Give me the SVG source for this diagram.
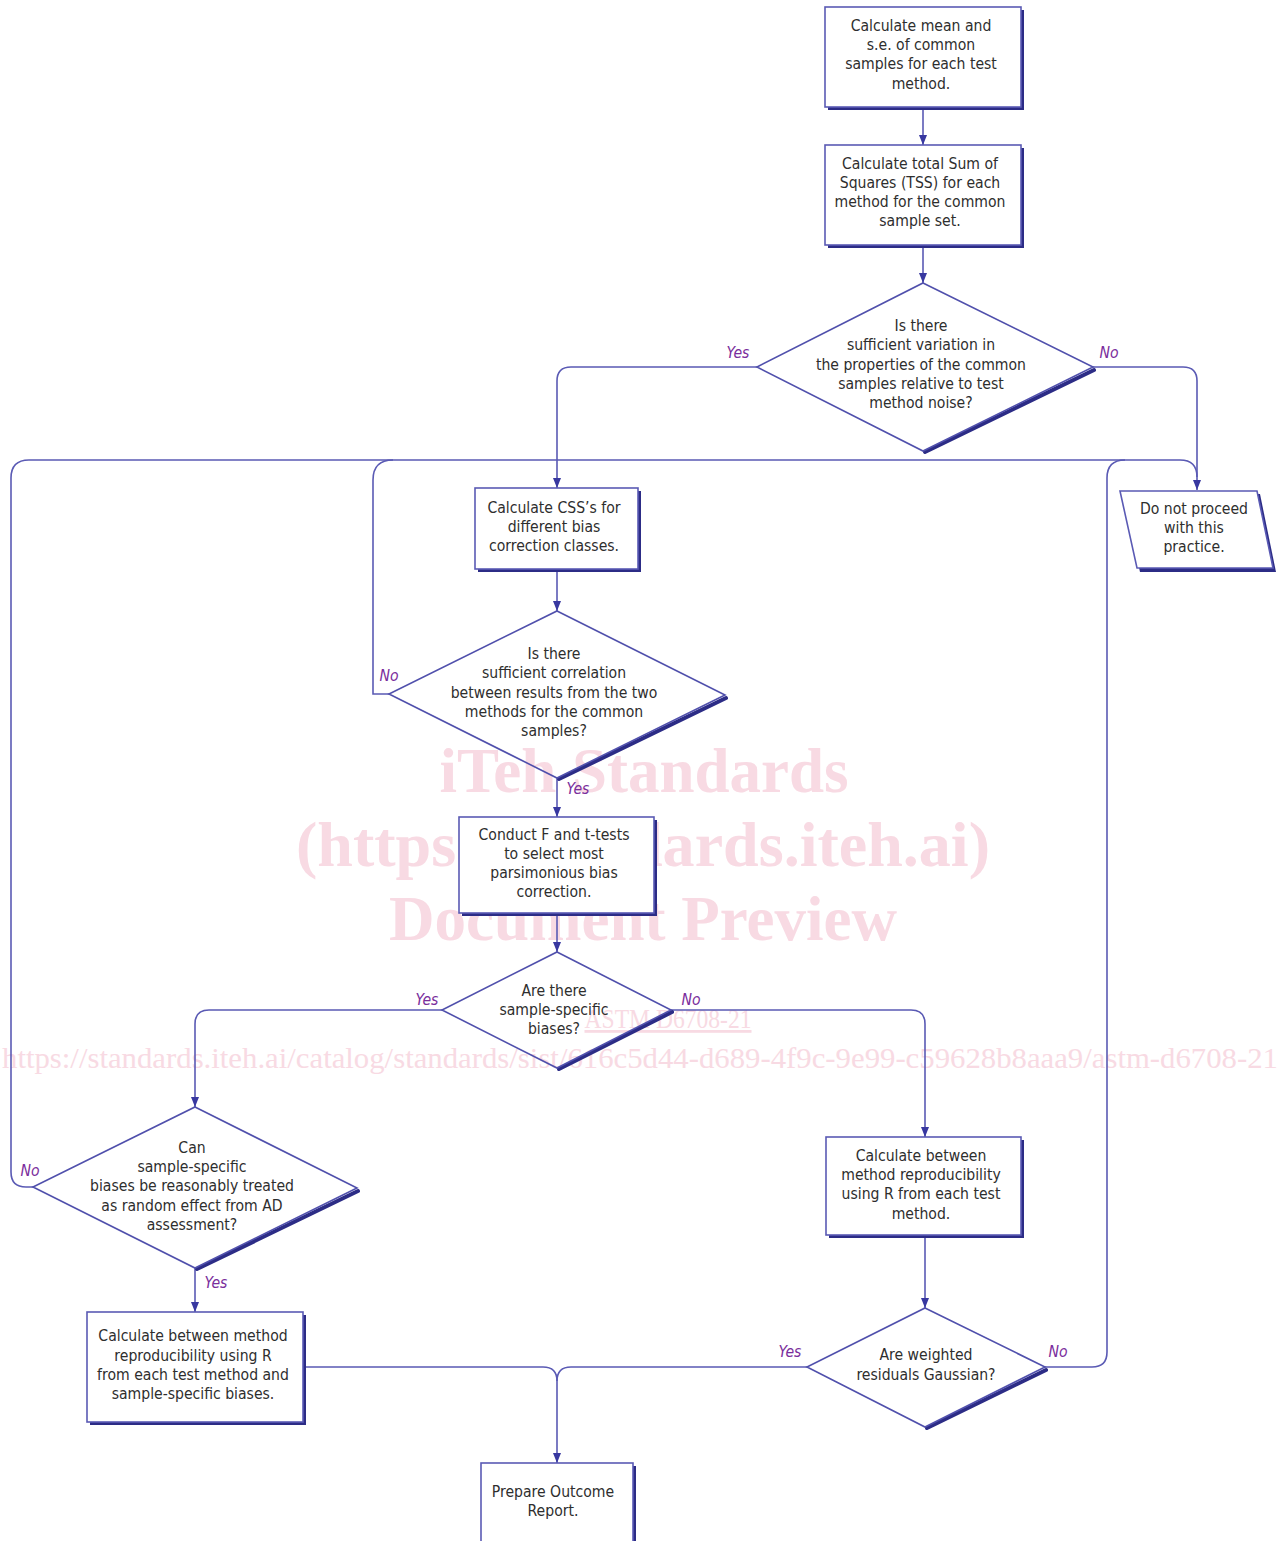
<svg xmlns="http://www.w3.org/2000/svg" width="1278" height="1541" viewBox="0 0 1278 1541">
<style>
.wm{font-family:"Liberation Serif","DejaVu Serif",serif;fill:#f8dae3;text-anchor:middle}
.wmb{font-weight:bold;font-size:63px}
.box{fill:#ffffff;stroke:#5a5ab4;stroke-width:1.6}
.dia{fill:none;stroke:#5050ac;stroke-width:1.6}
.sh{fill:#2c2c86;stroke:none}
.dsh{fill:none;stroke:#2c2c86;stroke-width:4;stroke-linecap:round}
.t{font-family:"DejaVu Sans Condensed","DejaVu Sans",sans-serif;font-stretch:condensed;font-size:15.6px;fill:#2e2e2e;text-anchor:middle}
.lb{font-family:"DejaVu Sans Condensed","DejaVu Sans",sans-serif;font-stretch:condensed;font-size:15.6px;font-style:italic;fill:#7a2d9c;text-anchor:middle}
.c{fill:none;stroke:#5a5ab4;stroke-width:1.6}
.ca{fill:none;stroke:#5a5ab4;stroke-width:1.6;marker-end:url(#ah)}
</style>
<defs>
<marker id="ah" markerWidth="10" markerHeight="12" refX="10" refY="5" orient="auto" markerUnits="userSpaceOnUse" viewBox="0 0 10 10">
<path d="M0,1 L10,5 L0,9 Z" fill="#3838a0"/>
</marker>
</defs>
<rect width="1278" height="1541" fill="#ffffff"/>
<g id="watermark">
<text class="wm wmb" x="644" y="792">iTeh Standards</text>
<text class="wm wmb" x="643" y="866" textLength="694" lengthAdjust="spacingAndGlyphs">(https://standards.iteh.ai)</text>
<text class="wm wmb" x="643" y="940">Document Preview</text>
<text class="wm" x="668" y="1028" font-size="28" textLength="167" lengthAdjust="spacingAndGlyphs" text-decoration="underline">ASTM D6708-21</text>
<text class="wm" x="640" y="1068" font-size="30" textLength="1276" lengthAdjust="spacingAndGlyphs">https://standards.iteh.ai/catalog/standards/sist/616c5d44-d689-4f9c-9e99-c59628b8aaa9/astm-d6708-21</text>
</g>
<g id="connectors">
<path class="ca" d="M923,110 V145"/>
<path class="ca" d="M923,248 V283"/>
<path class="ca" d="M757,367 H571 Q557,367 557,381 V488"/>
<path class="ca" d="M1093,367 H1183 Q1197,367 1197,381 V490"/>
<path class="c" d="M33,1187 H26 Q11,1187 11,1172 V478 Q11,460 29,460 H1180 Q1197,460 1197,477"/>
<path class="c" d="M389,694 H373 V480 Q373,460 393,460"/>
<path class="c" d="M1045,1367 H1092 Q1107,1367 1107,1352 V478 Q1107,460 1125,460"/>
<path class="ca" d="M557,572 V611"/>
<path class="ca" d="M557,778 V817"/>
<path class="ca" d="M557,916 V952"/>
<path class="ca" d="M442,1010 H209 Q195,1010 195,1024 V1107"/>
<path class="ca" d="M671,1010 H911 Q925,1010 925,1024 V1137"/>
<path class="ca" d="M195,1268 V1312"/>
<path class="ca" d="M925,1238 V1308"/>
<path class="ca" d="M303,1367 H543 Q557,1367 557,1381 V1463"/>
<path class="c" d="M807,1367 H571 Q557,1367 557,1381"/>
</g>
<g id="n1">
<rect class="sh" x="828" y="10" width="196" height="100"/>
<rect class="box" x="825" y="7" width="196" height="100"/>
<text class="t" x="921" y="31">Calculate mean and</text>
<text class="t" x="921" y="50">s.e. of common</text>
<text class="t" x="921" y="69">samples for each test</text>
<text class="t" x="921" y="89">method.</text>
</g>
<g id="n2">
<rect class="sh" x="828" y="148" width="196" height="100"/>
<rect class="box" x="825" y="145" width="196" height="100"/>
<text class="t" x="920" y="169">Calculate total Sum of</text>
<text class="t" x="920" y="188">Squares (TSS) for each</text>
<text class="t" x="920" y="207">method for the common</text>
<text class="t" x="920" y="226">sample set.</text>
</g>
<g id="d1">
<polyline class="dsh" points="1094,370 925,452"/>
<polygon class="dia" points="923,283 1093,367 923,451 757,367"/>
<text class="t" x="921" y="331">Is there</text>
<text class="t" x="921" y="350">sufficient variation in</text>
<text class="t" x="921" y="370">the properties of the common</text>
<text class="t" x="921" y="389">samples relative to test</text>
<text class="t" x="921" y="408">method noise?</text>
<text class="lb" x="738" y="358">Yes</text>
<text class="lb" x="1109" y="358">No</text>
</g>
<g id="n3">
<rect class="sh" x="478" y="491" width="163" height="81"/>
<rect class="box" x="475" y="488" width="163" height="81"/>
<text class="t" x="554" y="513">Calculate CSS’s for</text>
<text class="t" x="554" y="532">different bias</text>
<text class="t" x="554" y="551">correction classes.</text>
</g>
<g id="n4">
<polygon class="sh" points="1123,494 1260,494 1276,572 1140,572"/>
<polygon class="box" points="1120,491 1257,491 1273,568 1137,568"/>
<text class="t" x="1194" y="514">Do not proceed</text>
<text class="t" x="1194" y="533">with this</text>
<text class="t" x="1194" y="552">practice.</text>
</g>
<g id="d2">
<polyline class="dsh" points="726,698 559,779"/>
<polygon class="dia" points="557,611 725,695 557,778 389,694"/>
<text class="t" x="554" y="659">Is there</text>
<text class="t" x="554" y="678">sufficient correlation</text>
<text class="t" x="554" y="698">between results from the two</text>
<text class="t" x="554" y="717">methods for the common</text>
<text class="t" x="554" y="736">samples?</text>
<text class="lb" x="389" y="681">No</text>
<text class="lb" x="578" y="794">Yes</text>
</g>
<g id="n5">
<rect class="sh" x="462" y="820" width="195" height="96"/>
<rect class="box" x="459" y="817" width="195" height="96"/>
<text class="t" x="554" y="840">Conduct F and t-tests</text>
<text class="t" x="554" y="859">to select most</text>
<text class="t" x="554" y="878">parsimonious bias</text>
<text class="t" x="554" y="897">correction.</text>
</g>
<g id="d3">
<polyline class="dsh" points="672,1012 559,1069"/>
<polygon class="dia" points="557,952 671,1010 557,1068 442,1010"/>
<text class="t" x="554" y="996">Are there</text>
<text class="t" x="554" y="1015">sample-specific</text>
<text class="t" x="554" y="1034">biases?</text>
<text class="lb" x="427" y="1005">Yes</text>
<text class="lb" x="691" y="1005">No</text>
</g>
<g id="d4">
<polyline class="dsh" points="358,1191 197,1269"/>
<polygon class="dia" points="195,1107 357,1188 195,1268 33,1187"/>
<text class="t" x="192" y="1153">Can</text>
<text class="t" x="192" y="1172">sample-specific</text>
<text class="t" x="192" y="1191">biases be reasonably treated</text>
<text class="t" x="192" y="1211">as random effect from AD</text>
<text class="t" x="192" y="1230">assessment?</text>
<text class="lb" x="30" y="1176">No</text>
<text class="lb" x="216" y="1288">Yes</text>
</g>
<g id="n6">
<rect class="sh" x="90" y="1315" width="216" height="110"/>
<rect class="box" x="87" y="1312" width="216" height="110"/>
<text class="t" x="193" y="1341">Calculate between method</text>
<text class="t" x="193" y="1361">reproducibility using R</text>
<text class="t" x="193" y="1380">from each test method and</text>
<text class="t" x="193" y="1399">sample-specific biases.</text>
</g>
<g id="n7">
<rect class="sh" x="829" y="1140" width="195" height="98"/>
<rect class="box" x="826" y="1137" width="195" height="98"/>
<text class="t" x="921" y="1161">Calculate between</text>
<text class="t" x="921" y="1180">method reproducibility</text>
<text class="t" x="921" y="1199">using R from each test</text>
<text class="t" x="921" y="1219">method.</text>
</g>
<g id="d5">
<polyline class="dsh" points="1046,1370 927,1428"/>
<polygon class="dia" points="925,1308 1045,1367 925,1427 807,1367"/>
<text class="t" x="926" y="1360">Are weighted</text>
<text class="t" x="926" y="1380">residuals Gaussian?</text>
<text class="lb" x="790" y="1357">Yes</text>
<text class="lb" x="1058" y="1357">No</text>
</g>
<g id="n8">
<rect class="sh" x="484" y="1466" width="152" height="90"/>
<rect class="box" x="481" y="1463" width="152" height="90"/>
<text class="t" x="553" y="1497">Prepare Outcome</text>
<text class="t" x="553" y="1516">Report.</text>
</g>
</svg>
